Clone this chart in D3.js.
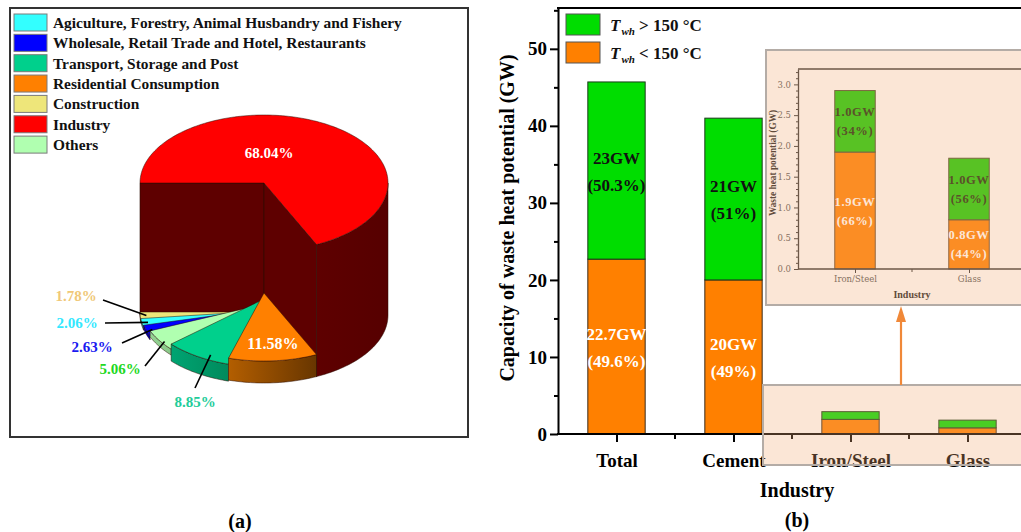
<!DOCTYPE html>
<html>
<head>
<meta charset="utf-8">
<script src="https://cdn.jsdelivr.net/npm/d3@7"></script>
<style>
  body { margin: 0; background: #fff; }
  svg { display: block; }
</style>
</head>
<body>
<svg id="chart" width="1021" height="532"></svg>
<script>
// ---- (a) energy consumption share by sector (%) ----
const sectors = [
  "Agiculture, Forestry, Animal Husbandry and Fishery",
  "Wholesale, Retail Trade and Hotel, Restaurants",
  "Transport, Storage and Post",
  "Residential Consumption",
  "Construction",
  "Industry",
  "Others"
];
const sectorShares = [2.06, 2.63, 8.85, 11.58, 1.78, 68.04, 5.06];
// slices clockwise from the 9 o'clock position
const pieOrder = [
  "Industry",
  "Residential Consumption",
  "Transport, Storage and Post",
  "Others",
  "Wholesale, Retail Trade and Hotel, Restaurants",
  "Agiculture, Forestry, Animal Husbandry and Fishery",
  "Construction"
];

// ---- (b) waste heat potential by industry (GW) ----
const industries = ["Total", "Cement", "Iron/Steel", "Glass"];
const below150 = [22.7, 20, 1.9, 0.8];
const above150 = [23, 21, 1.0, 1.0];
const below150Pct = ["49.6%", "49%", "66%", "44%"];
const above150Pct = ["50.3%", "51%", "34%", "56%"];
const mainLabelled = ["Total", "Cement"];
const insetIndustries = ["Iron/Steel", "Glass"];
const mainYTicks = [0, 10, 20, 30, 40, 50];
const mainYMinor = [5, 15, 25, 35, 45, 55];
const insetYTicks = [0, 0.5, 1.0, 1.5, 2.0, 2.5, 3.0];

const serif = "'Liberation Serif','Times New Roman',serif";
const svg = d3.select("#chart");
const defs = svg.append("defs");

// =================== panel (a) ===================
svg.append("rect").attr("x", 10).attr("y", 8).attr("width", 458).attr("height", 429)
  .attr("fill", "#fff").attr("stroke", "#333").attr("stroke-width", 2);

const sectorColor = {
  "Agiculture, Forestry, Animal Husbandry and Fishery": "#33ffff",
  "Wholesale, Retail Trade and Hotel, Restaurants": "#0000ff",
  "Transport, Storage and Post": "#00d08c",
  "Residential Consumption": "#ff8000",
  "Construction": "#eee67a",
  "Industry": "#ff0000",
  "Others": "#b0ffb0"
};
// wall shading, top-face level and base level of each slice
const sliceStyle = {
  "Industry": { wallA: "#5e0000", wallB: "#560000", yTop: 183, yBase: 315 },
  "Residential Consumption": { wallA: "#b35e00", wallB: "#683600", yTop: 293, yBase: 315 },
  "Transport, Storage and Post": { wallA: "#00a472", wallB: "#008a5c", yTop: 299, yBase: 316 },
  "Others": { wallA: "#94d494", wallB: "#88c888", yTop: 304, yBase: 310 },
  "Wholesale, Retail Trade and Hotel, Restaurants": { wallA: "#0000b8", wallB: "#0000a0", yTop: 309, yBase: 313 },
  "Agiculture, Forestry, Animal Husbandry and Fishery": { wallA: "#22c0c0", wallB: "#20b0b0", yTop: 311, yBase: 314 },
  "Construction": { wallA: "#c8c060", wallB: "#b8b050", yTop: 312, yBase: 315 }
};
const labelColor = {
  "Construction": "#f0c878",
  "Agiculture, Forestry, Animal Husbandry and Fishery": "#33e8ff",
  "Wholesale, Retail Trade and Hotel, Restaurants": "#1a1af0",
  "Others": "#22d822",
  "Transport, Storage and Post": "#22cc99"
};
// leader line outer end, label anchor, and where the leader meets the slice
const labelLayout = {
  "Construction": { lx: 103, ly: 300, tx: 76, ty: 301, f: 0.95, dy: 0 },
  "Agiculture, Forestry, Animal Husbandry and Fishery": { lx: 105, ly: 323, tx: 77, ty: 328, f: 0.95, dy: 0 },
  "Wholesale, Retail Trade and Hotel, Restaurants": { lx: 122, ly: 343, tx: 92, ty: 352, f: 0.95, dy: 0 },
  "Others": { lx: 145, ly: 366, tx: 120, ty: 374, f: 0.95, dy: 3 },
  "Transport, Storage and Post": { lx: 195, ly: 388, tx: 195, ty: 407, f: 0.8, dy: 10 }
};

// legend
const legend = svg.append("g");
sectors.forEach((s, i) => {
  const y0 = 14 + i * 20.35;
  legend.append("rect").attr("x", 14).attr("y", y0).attr("width", 33).attr("height", 17)
    .attr("fill", sectorColor[s]).attr("stroke", "#7a7a7a").attr("stroke-width", 1);
  legend.append("text").attr("x", 53).attr("y", y0 + 14)
    .attr("font-family", serif).attr("font-weight", "bold").attr("font-size", 15.4)
    .attr("fill", "#111").text(s);
});

// pseudo-3D pie
const geo = { cx: 264, rx: 124, ry: 68 };
const pie = d3.pie().sort(null).value(d => d.share)
  .startAngle(-Math.PI / 2).endAngle(1.5 * Math.PI);
const pieData = pieOrder.map(name => ({ name, share: sectorShares[sectors.indexOf(name)] }));
const arcs = pie(pieData);
const toT = a => 90 - a * 180 / Math.PI;   // d3 angle -> degrees ccw from 3 o'clock
function pt(t, cy, f = 1) {
  const r = t * Math.PI / 180;
  return [geo.cx + geo.rx * f * Math.cos(r), cy - geo.ry * f * Math.sin(r)];
}
function arcPts(tA, tB, cy) {
  const n = Math.max(2, Math.ceil(Math.abs(tB - tA) / 1.5));
  return d3.range(n + 1).map(i => pt(tA + (tB - tA) * i / n, cy));
}
const poly = pts => d3.line()(pts) + "Z";
const pieG = svg.append("g");
const edge = "#2a0a00";

function wallGradient(id, a, b) {
  const g = defs.append("linearGradient").attr("id", id).attr("x1", 0).attr("x2", 1).attr("y1", 0).attr("y2", 0);
  g.append("stop").attr("offset", 0).attr("stop-color", a);
  g.append("stop").attr("offset", 1).attr("stop-color", b);
}

function drawSlice(arc, idx) {
  const name = arc.data.name, st = sliceStyle[name];
  const t0 = toT(arc.startAngle), t1 = toT(arc.endAngle); // t0 > t1
  const gid = "wall" + idx;
  wallGradient(gid, st.wallA, st.wallB);
  if (name === "Industry") {
    // cut faces of the tall slice
    [t0, t1].forEach(t => {
      pieG.append("path")
        .attr("d", poly([[geo.cx, st.yTop], pt(t, st.yTop), pt(t, st.yBase), [geo.cx, st.yBase]]))
        .attr("fill", st.wallA).attr("stroke", edge).attr("stroke-width", 0.6);
    });
  }
  // front outer wall
  const lo = Math.max(t1, -180), hi = Math.min(t0, 0);
  if (hi > lo) {
    const topArc = arcPts(lo, hi, st.yTop);
    const baseArc = arcPts(hi, lo, st.yBase);
    pieG.append("path").attr("d", poly(topArc.concat(baseArc)))
      .attr("fill", `url(#${gid})`).attr("stroke", edge).attr("stroke-width", 0.5);
  }
  // top face
  const face = [[geo.cx, st.yTop]].concat(arcPts(t0, t1, st.yTop));
  pieG.append("path").attr("d", poly(face))
    .attr("fill", sectorColor[name]).attr("stroke", edge).attr("stroke-width", 0.5);
}

const drawOrder = [0, 6, 5, 4, 3, 2, 1];
drawOrder.forEach(i => drawSlice(arcs[i], i));

// labels on the slices
const pctFmt = v => v.toFixed(2) + "%";
arcs.forEach(arc => {
  const name = arc.data.name, st = sliceStyle[name];
  const tm = (toT(arc.startAngle) + toT(arc.endAngle)) / 2;
  if (name === "Industry") {
    pieG.append("text").attr("x", geo.cx + 5).attr("y", st.yTop - 25)
      .attr("text-anchor", "middle").attr("font-family", serif).attr("font-weight", "bold")
      .attr("font-size", 15).attr("fill", "#fff").text(pctFmt(arc.data.share));
  } else if (name === "Residential Consumption") {
    const p = pt(tm, st.yTop, 0.75);
    pieG.append("text").attr("x", p[0] + 2).attr("y", p[1] + 5)
      .attr("text-anchor", "middle").attr("font-family", serif).attr("font-weight", "bold")
      .attr("font-size", 16).attr("fill", "#fff").text(pctFmt(arc.data.share));
  } else {
    const L = labelLayout[name];
    const p = pt(tm, st.yTop, L.f);
    pieG.append("line").attr("x1", L.lx).attr("y1", L.ly).attr("x2", p[0]).attr("y2", p[1] + L.dy)
      .attr("stroke", "#000").attr("stroke-width", 1.6);
    pieG.append("text").attr("x", L.tx).attr("y", L.ty).attr("text-anchor", "middle")
      .attr("font-family", serif).attr("font-weight", "bold").attr("font-size", 15)
      .attr("fill", labelColor[name]).text(pctFmt(arc.data.share));
  }
});

svg.append("text").attr("x", 240).attr("y", 528).attr("text-anchor", "middle")
  .attr("font-family", serif).attr("font-weight", "bold").attr("font-size", 20).text("(a)");

// =================== panel (b) ===================
const GREEN = "#00dd00", ORANGE = "#ff8000";
const x = d3.scalePoint().domain(industries).range([558, 1026]).padding(0.5);
const bw = x.step() * 0.49;
const y = d3.scaleLinear().domain([0, 55.3]).range([434, 8]);
const main = svg.append("g");

// bars
industries.forEach((ind, i) => {
  const cxp = x(ind);
  main.append("rect").attr("x", cxp - bw / 2).attr("y", y(below150[i]))
    .attr("width", bw).attr("height", y(0) - y(below150[i]))
    .attr("fill", ORANGE).attr("stroke", "#3a2a1a").attr("stroke-width", 1);
  main.append("rect").attr("x", cxp - bw / 2).attr("y", y(below150[i] + above150[i]))
    .attr("width", bw).attr("height", y(below150[i]) - y(below150[i] + above150[i]))
    .attr("fill", GREEN).attr("stroke", "#1a3a1a").attr("stroke-width", 1);
});

// value labels on the large bars
const gw = v => d3.format("~")(v) + "GW";
industries.forEach((ind, i) => {
  if (!mainLabelled.includes(ind)) return;
  const cxp = x(ind);
  const midLow = (y(0) + y(below150[i])) / 2;
  const midHigh = (y(below150[i]) + y(below150[i] + above150[i])) / 2;
  [[midLow, gw(below150[i]), "(" + below150Pct[i] + ")", "#fff"],
   [midHigh, gw(above150[i]), "(" + above150Pct[i] + ")", "#111"]].forEach(([m, a, b, c]) => {
    main.append("text").attr("x", cxp).attr("y", m - 7).attr("text-anchor", "middle")
      .attr("font-family", serif).attr("font-weight", "bold").attr("font-size", 17).attr("fill", c).text(a);
    main.append("text").attr("x", cxp).attr("y", m + 20).attr("text-anchor", "middle")
      .attr("font-family", serif).attr("font-weight", "bold").attr("font-size", 17).attr("fill", c).text(b);
  });
});

// axes
const yAxis = main.append("g").attr("transform", "translate(558,0)")
  .call(d3.axisLeft(y).tickValues(mainYTicks).tickSize(8).tickSizeOuter(0).tickPadding(3));
main.append("g").attr("transform", "translate(558,0)")
  .call(d3.axisLeft(y).tickValues(mainYMinor).tickSize(4).tickSizeOuter(0).tickFormat(""))
  .select(".domain").remove();
yAxis.selectAll("text").attr("font-family", serif).attr("font-weight", "bold").attr("font-size", 19).attr("fill", "#000");
main.selectAll(".tick line").attr("stroke", "#000").attr("stroke-width", 2);
yAxis.select(".domain").attr("stroke", "#000").attr("stroke-width", 2);

const xAxis = main.append("g").attr("transform", "translate(0,434)")
  .call(d3.axisBottom(x).tickSize(8).tickSizeOuter(0).tickPadding(12));
xAxis.select(".domain").remove();
xAxis.selectAll(".tick line").attr("stroke", "#000").attr("stroke-width", 2);
xAxis.selectAll("text").attr("font-family", serif).attr("font-weight", "bold").attr("font-size", 19).attr("fill", "#000");
industries.slice(0, -1).forEach(ind => {
  const mx = x(ind) + x.step() / 2;
  main.append("line").attr("x1", mx).attr("x2", mx).attr("y1", 434).attr("y2", 439)
    .attr("stroke", "#000").attr("stroke-width", 2);
});
main.append("line").attr("x1", 557).attr("x2", 1021).attr("y1", 434).attr("y2", 434).attr("stroke", "#000").attr("stroke-width", 2);
main.append("line").attr("x1", 557).attr("x2", 1021).attr("y1", 8).attr("y2", 8).attr("stroke", "#000").attr("stroke-width", 2);

main.append("text").attr("transform", "translate(514,218) rotate(-90)").attr("text-anchor", "middle")
  .attr("font-family", serif).attr("font-weight", "bold").attr("font-size", 20)
  .text("Capacity of waste heat potential (GW)");
main.append("text").attr("x", 797).attr("y", 497).attr("text-anchor", "middle")
  .attr("font-family", serif).attr("font-weight", "bold").attr("font-size", 20).text("Industry");
main.append("text").attr("x", 797).attr("y", 527).attr("text-anchor", "middle")
  .attr("font-family", serif).attr("font-weight", "bold").attr("font-size", 20).text("(b)");

// legend
[[GREEN, ">"], [ORANGE, "<"]].forEach(([c, op], i) => {
  const ly = 14 + i * 28;
  main.append("rect").attr("x", 566).attr("y", ly).attr("width", 34).attr("height", 21)
    .attr("fill", c).attr("stroke", "#555").attr("stroke-width", 1);
  const t = main.append("text").attr("x", 610).attr("y", ly + 17)
    .attr("font-family", serif).attr("font-weight", "bold").attr("font-size", 17).attr("fill", "#111");
  t.append("tspan").attr("font-style", "italic").text("T");
  t.append("tspan").attr("font-style", "italic").attr("font-size", 11).attr("dy", 4).attr("dx", 1).text("wh");
  t.append("tspan").attr("dy", -4).text(" " + op + " 150 °C");
});

// translucent highlight over the two small bars
const TINT = "#f2ac76", TINT_A = 0.3;
svg.append("rect").attr("x", 763).attr("y", 385).attr("width", 262).attr("height", 80)
  .attr("fill", TINT).attr("fill-opacity", TINT_A).attr("stroke", "#b4aca6").attr("stroke-width", 2);

// arrow to the zoomed view
svg.append("line").attr("x1", 901).attr("x2", 901).attr("y1", 385).attr("y2", 318)
  .attr("stroke", "#f08838").attr("stroke-width", 2.2);
svg.append("path").attr("d", "M896,322 L906,322 L901,306 Z").attr("fill", "#f08838");

// ---------- zoomed inset ----------
const inset = svg.append("g");
inset.append("rect").attr("x", 766).attr("y", 50).attr("width", 260).attr("height", 255).attr("fill", "#fff");
const ix = d3.scalePoint().domain(insetIndustries).range([798, 1026]).padding(0.5);
const ibw = ix.step() * 0.355;
const iy = d3.scaleLinear().domain([0, 3.25]).range([269, 69]);
const IG = "#16cc00", IO = "#ff8000";
insetIndustries.forEach(ind => {
  const i = industries.indexOf(ind), cxp = ix(ind);
  inset.append("rect").attr("x", cxp - ibw / 2).attr("y", iy(below150[i])).attr("width", ibw)
    .attr("height", iy(0) - iy(below150[i])).attr("fill", IO).attr("stroke", "#6a4a2a").attr("stroke-width", 1);
  inset.append("rect").attr("x", cxp - ibw / 2).attr("y", iy(below150[i] + above150[i])).attr("width", ibw)
    .attr("height", iy(below150[i]) - iy(below150[i] + above150[i])).attr("fill", IG).attr("stroke", "#4a4a2a").attr("stroke-width", 1);
  const midLow = (iy(0) + iy(below150[i])) / 2;
  const midHigh = (iy(below150[i]) + iy(below150[i] + above150[i])) / 2;
  [[midLow, below150[i], below150Pct[i], "#fff"], [midHigh, above150[i], above150Pct[i], "#1a2a0a"]].forEach(([m, v, p, c]) => {
    inset.append("text").attr("x", cxp).attr("y", m - 5).attr("text-anchor", "middle")
      .attr("font-family", serif).attr("font-weight", "bold").attr("font-size", 12.5)
      .attr("letter-spacing", 0.6).attr("fill", c).text(v.toFixed(1) + "GW");
    inset.append("text").attr("x", cxp).attr("y", m + 14).attr("text-anchor", "middle")
      .attr("font-family", serif).attr("font-weight", "bold").attr("font-size", 12.5)
      .attr("letter-spacing", 0.6).attr("fill", c).text("(" + p + ")");
  });
});
const iyAxis = inset.append("g").attr("transform", "translate(798,0)")
  .call(d3.axisLeft(iy).tickValues(insetYTicks).tickSize(4).tickSizeOuter(0).tickPadding(3)
    .tickFormat(d => d.toFixed(1)));
inset.append("g").attr("transform", "translate(798,0)")
  .call(d3.axisLeft(iy).tickValues(d3.range(0.1, 3.25, 0.1).filter(v => Math.abs(v * 2 - Math.round(v * 2)) > 0.01))
    .tickSize(2).tickSizeOuter(0).tickFormat(""))
  .select(".domain").remove();
iyAxis.selectAll("text").attr("font-family", "'DejaVu Serif',serif").attr("font-size", 8.5).attr("fill", "#555");
const ixAxis = inset.append("g").attr("transform", "translate(0,269)")
  .call(d3.axisBottom(ix).tickSize(4).tickSizeOuter(0).tickPadding(3));
ixAxis.select(".domain").remove();
ixAxis.selectAll("text").attr("font-family", "'DejaVu Serif',serif").attr("font-size", 8.5).attr("fill", "#555");
inset.append("line").attr("x1", ix(insetIndustries[0]) + ix.step() / 2).attr("x2", ix(insetIndustries[0]) + ix.step() / 2)
  .attr("y1", 269).attr("y2", 272).attr("stroke", "#333");
inset.selectAll(".tick line").attr("stroke", "#333");
iyAxis.select(".domain").attr("stroke", "#333").attr("stroke-width", 1.3);
inset.append("line").attr("x1", 798).attr("x2", 1021).attr("y1", 269).attr("y2", 269).attr("stroke", "#333").attr("stroke-width", 1.3);
inset.append("line").attr("x1", 798).attr("x2", 1021).attr("y1", 69).attr("y2", 69).attr("stroke", "#333").attr("stroke-width", 1.3);
inset.append("text").attr("transform", "translate(776,163) rotate(-90)").attr("text-anchor", "middle")
  .attr("font-family", serif).attr("font-weight", "bold").attr("font-size", 9.3).attr("fill", "#222")
  .text("Waste heat potential (GW)");
inset.append("text").attr("x", 912).attr("y", 298).attr("text-anchor", "middle")
  .attr("font-family", serif).attr("font-weight", "bold").attr("font-size", 10).attr("fill", "#222")
  .text("Industry");
inset.append("rect").attr("x", 766).attr("y", 50).attr("width", 260).attr("height", 255)
  .attr("fill", TINT).attr("fill-opacity", TINT_A).attr("stroke", "#b4aca6").attr("stroke-width", 2);
</script>
</body>
</html>
